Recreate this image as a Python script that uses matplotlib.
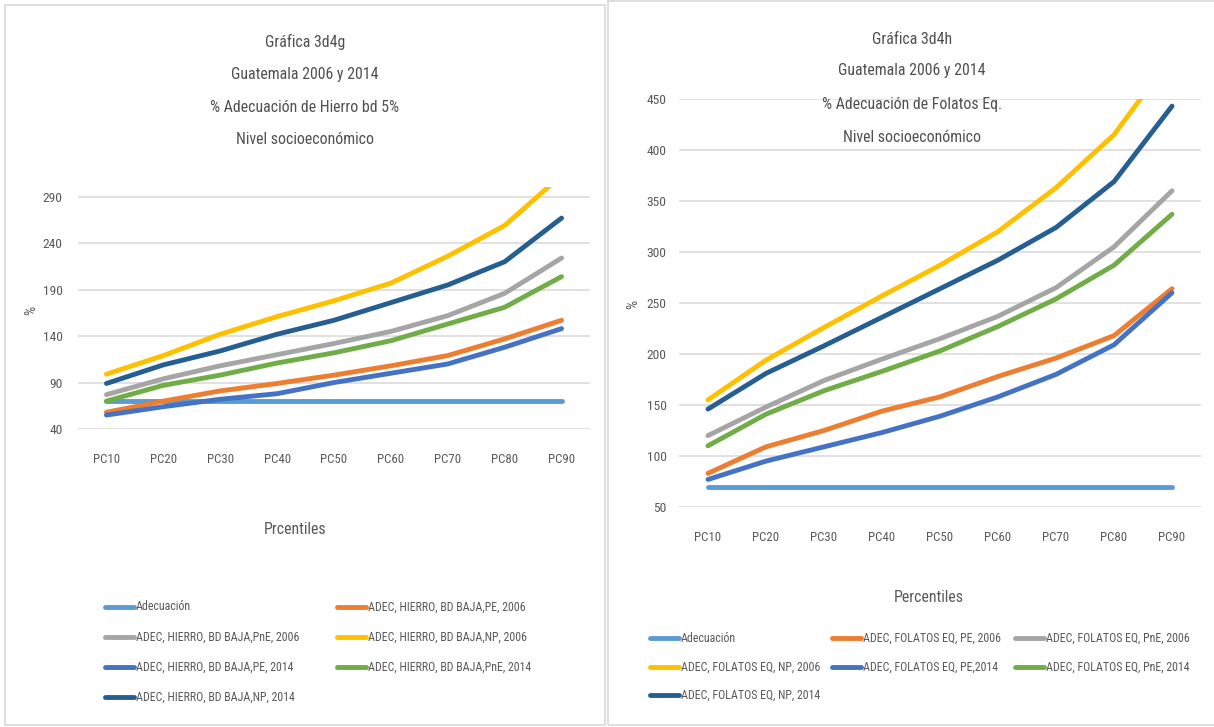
import matplotlib
matplotlib.use("Agg")
import matplotlib.pyplot as plt
from matplotlib import font_manager
from matplotlib.lines import Line2D
from matplotlib.patches import Rectangle

# ---------------------------------------------------------------- data
percentiles = ["PC10", "PC20", "PC30", "PC40", "PC50", "PC60", "PC70", "PC80", "PC90"]

# Hierro (biodisponibilidad baja 5%)
hierro_adecuacion = [70, 70, 70, 70, 70, 70, 70, 70, 70]
hierro_pe_2006 = [58, 70, 81, 89, 98, 108, 119, 137, 157]
hierro_pne_2006 = [77, 94, 108, 120, 132, 145, 162, 186, 224]
hierro_np_2006 = [99, 119, 142, 161, 178, 197, 226, 259, 313]
hierro_pe_2014 = [55, 64, 72, 78, 90, 100, 110, 128, 148]
hierro_pne_2014 = [70, 87, 98, 111, 122, 135, 153, 171, 204]
hierro_np_2014 = [89, 109, 124, 142, 157, 176, 195, 220, 267]

hierro_labels = [
    "Adecuación",
    "ADEC, HIERRO, BD BAJA,PE, 2006",
    "ADEC, HIERRO, BD BAJA,PnE, 2006",
    "ADEC, HIERRO, BD BAJA,NP, 2006",
    "ADEC, HIERRO, BD BAJA,PE, 2014",
    "ADEC, HIERRO, BD BAJA,PnE, 2014",
    "ADEC, HIERRO, BD BAJA,NP, 2014",
]
hierro_yticks = [40, 90, 140, 190, 240, 290]

# Folatos equivalentes
folatos_adecuacion = [70, 70, 70, 70, 70, 70, 70, 70, 70]
folatos_pe_2006 = [83, 109, 125, 144, 158, 178, 196, 218, 264]
folatos_pne_2006 = [120, 148, 174, 195, 215, 237, 265, 305, 360]
folatos_np_2006 = [155, 194, 226, 257, 287, 320, 363, 415, 492]
folatos_pe_2014 = [77, 95, 109, 123, 139, 158, 180, 209, 260]
folatos_pne_2014 = [110, 141, 164, 183, 203, 227, 254, 287, 337]
folatos_np_2014 = [146, 181, 208, 236, 264, 292, 324, 369, 443]

folatos_labels = [
    "Adecuación",
    "ADEC, FOLATOS EQ, PE, 2006",
    "ADEC, FOLATOS EQ, PnE, 2006",
    "ADEC, FOLATOS EQ, NP, 2006",
    "ADEC, FOLATOS EQ, PE,2014",
    "ADEC, FOLATOS EQ, PnE, 2014",
    "ADEC, FOLATOS EQ, NP, 2014",
]
folatos_yticks = [50, 100, 150, 200, 250, 300, 350, 400, 450]

# ---------------------------------------------------------------- style
colors = ["#5B9BD5", "#ED7D31", "#A5A5A5", "#FFC000", "#4472C4", "#70AD47", "#255E91"]
TEXT = "#595959"
GRID = "#D9D9D9"

# pick the narrowest sans face available; k rescales sizes to keep text widths
entries = font_manager.fontManager.ttflist
names = {f.name for f in entries}
FONT, STRETCH, k = "Liberation Sans", "normal", 0.82
narrow_choices = [
    ("Liberation Sans Narrow", "normal", 1.0),
    ("Roboto Condensed", "normal", 0.95),
    ("Open Sans Condensed", "normal", 0.93),
    ("Noto Sans Condensed", "normal", 0.91),
]
found = False
for name, stretch, kk in narrow_choices:
    if name in names:
        FONT, STRETCH, k = name, stretch, kk
        found = True
        break
if not found:
    for fam, kk in [("Roboto", 0.95), ("Noto Sans", 0.91), ("Open Sans", 0.9)]:
        cond = [f for f in entries if f.name == fam and f.style == "normal"
                and str(f.stretch) in ("condensed", "extra-condensed", "semi-condensed", "75", "62.5", "87.5")]
        if cond:
            FONT, STRETCH, k = fam, cond[0].stretch, kk
            break

plt.rcParams["font.family"] = [FONT, "DejaVu Sans"]
plt.rcParams["font.stretch"] = STRETCH

W, H = 1214, 727
fig = plt.figure(figsize=(W / 100, H / 100), dpi=100)


def fx(px):
    return px / W


def fy(py):
    return 1 - py / H


# chart frames
fig.add_artist(Rectangle((fx(5), fy(725)), fx(600), 720 / H, transform=fig.transFigure,
                         fill=False, edgecolor=GRID, linewidth=1.2))
fig.add_artist(Rectangle((fx(608), fy(725)), fx(620), 724 / H, transform=fig.transFigure,
                         fill=False, edgecolor=GRID, linewidth=1.2))


def draw_chart(rect, series, labels, yticks, ylim, ytick_pad, xtick_pad):
    ax = fig.add_axes(rect)
    x = list(range(len(percentiles)))
    lines = []
    for i, (vals, lab) in enumerate(zip(series, labels)):
        (ln,) = ax.plot(x, vals, color=colors[i], lw=3.5, label=lab,
                        solid_capstyle="round", solid_joinstyle="round", zorder=3 + i)
        lines.append(ln)
    ax.set_xlim(-0.5, len(percentiles) - 0.5)
    ax.set_ylim(*ylim)
    ax.set_yticks(yticks)
    ax.set_xticks(x)
    ax.set_xticklabels(percentiles)
    ax.grid(axis="y", color=GRID, lw=1.1, zorder=0)
    ax.grid(axis="x", visible=False)
    for s in ax.spines.values():
        s.set_visible(False)
    ax.tick_params(axis="y", length=0, pad=ytick_pad, labelsize=10.2 * k, labelcolor=TEXT)
    ax.tick_params(axis="x", length=0, pad=xtick_pad, labelsize=9.8 * k, labelcolor=TEXT)
    ax.set_facecolor("none")
    return ax, lines


def draw_titles(cx, ys, lines_txt):
    for y, t in zip(ys, lines_txt):
        fig.text(fx(cx), fy(y), t, ha="center", va="center", fontsize=12 * k, color="#505050")


def draw_legend(lines, col_x, row_y, order):
    for (r, c), idx in zip(order, range(len(lines))):
        x0 = col_x[c]
        y0 = row_y[r]
        fig.add_artist(Line2D([fx(x0), fx(x0 + 29)], [fy(y0), fy(y0)], transform=fig.transFigure,
                              color=lines[idx].get_color(), lw=3.5, solid_capstyle="round"))
        fig.text(fx(x0 + 31), fy(y0), lines[idx].get_label(), ha="left", va="center",
                 fontsize=9.0 * k, color=TEXT)


# ---------------------------------------------------------------- left chart: hierro
axL, linesL = draw_chart(
    [fx(78), fy(429), 512 / W, (429 - 187.4) / H],
    [hierro_adecuacion, hierro_pe_2006, hierro_pne_2006, hierro_np_2006,
     hierro_pe_2014, hierro_pne_2014, hierro_np_2014],
    hierro_labels, hierro_yticks, (40, 300), ytick_pad=11, xtick_pad=17)
draw_titles(305, [42, 75, 107, 140],
            ["Gráfica 3d4g", "Guatemala 2006 y 2014", "% Adecuación de Hierro bd 5%",
             "Nivel socioeconómico"])
fig.text(fx(31), fy(310), "%", rotation=90, ha="center", va="center", fontsize=11 * k, color=TEXT)
fig.text(fx(295), fy(530), "Prcentiles", ha="center", va="center", fontsize=12 * k, color=TEXT)
draw_legend(linesL, [105, 337], [607, 637, 667, 697],
            [(0, 0), (0, 1), (1, 0), (1, 1), (2, 0), (2, 1), (3, 0)])

# ---------------------------------------------------------------- right chart: folatos
axR, linesR = draw_chart(
    [fx(679), fy(507), 522 / W, (507 - 99) / H],
    [folatos_adecuacion, folatos_pe_2006, folatos_pne_2006, folatos_np_2006,
     folatos_pe_2014, folatos_pne_2014, folatos_np_2014],
    folatos_labels, folatos_yticks, (50, 450), ytick_pad=9, xtick_pad=17)
draw_titles(912, [39, 71, 104, 137],
            ["Gráfica 3d4h", "Guatemala 2006 y 2014", "% Adecuación de Folatos Eq.",
             "Nivel socioeconómico"])
fig.text(fx(633), fy(304), "%", rotation=90, ha="center", va="center", fontsize=11 * k, color=TEXT)
fig.text(fx(929), fy(598), "Percentiles", ha="center", va="center", fontsize=12 * k, color=TEXT)
draw_legend(linesR, [650, 832, 1015], [638, 667, 695],
            [(0, 0), (0, 1), (0, 2), (1, 0), (1, 1), (1, 2), (2, 0)])

fig.savefig("out.png", dpi=100, facecolor="white")
